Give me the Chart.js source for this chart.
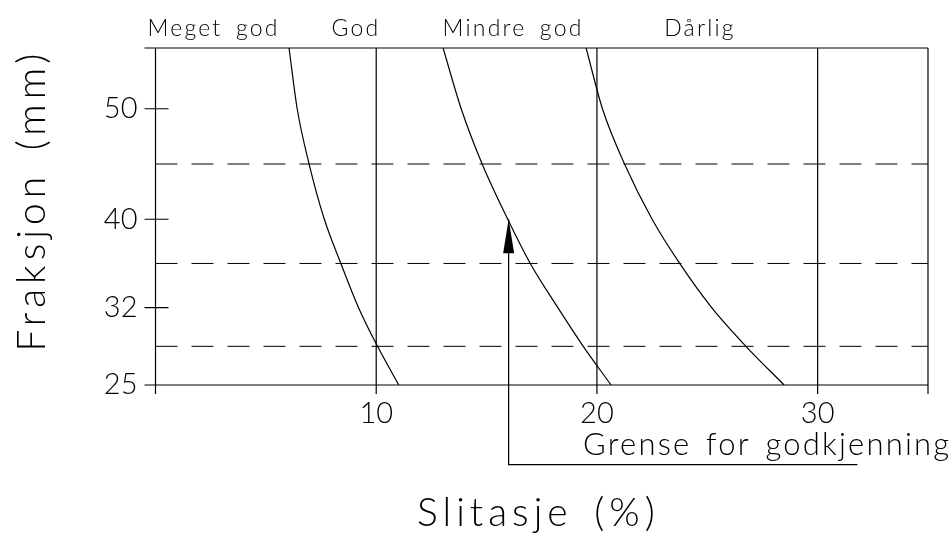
<!DOCTYPE html>
<html>
<head>
<meta charset="utf-8">
<script src="https://cdn.jsdelivr.net/npm/chart.js@4.4.1/dist/chart.umd.min.js"></script>
<style>
  html, body { margin: 0; padding: 0; background: #fff; }
  #wrap { width: 952px; height: 536px; }
</style>
</head>
<body>
<div id="wrap"><canvas id="myChart" width="952" height="536"></canvas></div>
<script>
// values
const xTicks = [10, 20, 30];
const yTicks = [25, 32, 40, 50];
const classLimits = [45, 36, 28.5];
const zoneNames = ['Meget god', 'God', 'Mindre god', 'Dårlig'];

const curveY = [55.5, 50, 45, 40, 36, 32, 28.5, 25];
const curve1X = [6.05, 6.42, 6.96, 7.65, 8.40, 9.20, 10.06, 11.02];
const curve2X = [13.03, 13.85, 14.80, 15.96, 16.98, 18.23, 19.38, 20.64];
const curve3X = [19.51, 20.25, 21.25, 22.50, 23.75, 25.20, 26.75, 28.48];

const limitX = [16, 16, 31.8];
const limitY = [40, 17.8, 17.8];
const limitText = 'Grense for godkjenning';

const xTitle = 'Slitasje (%)';
const yTitle = 'Fraksjon (mm)';

const FONT = "Lato, 'DejaVu Sans', sans-serif";
const WEIGHT = 300;

function pts(xs, ys) {
    return xs.map(function (x, i) { return { x: x, y: ys[i] }; });
}

const datasets = [];
[curve1X, curve2X, curve3X].forEach(function (cx) {
    datasets.push({
        data: pts(cx, curveY),
        borderColor: '#000',
        borderWidth: 1.2,
        pointRadius: 0,
        cubicInterpolationMode: 'monotone',
        fill: false
    });
});
classLimits.forEach(function (v) {
    datasets.push({
        data: [{ x: 0, y: v }, { x: 35, y: v }],
        borderColor: '#000',
        borderWidth: 1,
        borderDash: [22, 14],
        pointRadius: 0,
        tension: 0
    });
});
datasets.push({
    data: pts(limitX, limitY),
    borderColor: '#000',
    borderWidth: 1.2,
    pointRadius: 0,
    tension: 0,
    clip: false
});

// CAD style frame, tick crosses, arrowhead and free texts
const drawingPlugin = {
    id: 'drawing',
    beforeDatasetsDraw: function (chart) {
        const ctx = chart.ctx;
        const xs = chart.scales.x;
        const ys = chart.scales.y;
        const top = chart.chartArea.top;
        const bottom = chart.chartArea.bottom;
        ctx.save();
        ctx.strokeStyle = '#000';
        ctx.lineWidth = 1.2;
        ctx.beginPath();
        // verticals (axis, grid, right border) with tick stubs below
        [0].concat(xTicks, [35]).forEach(function (v) {
            const px = xs.getPixelForValue(v);
            ctx.moveTo(px, top);
            ctx.lineTo(px, bottom + 9);
        });
        // top and bottom lines
        const x0 = xs.getPixelForValue(0);
        const x1 = xs.getPixelForValue(35);
        ctx.moveTo(x0 - 11, top);
        ctx.lineTo(x1, top);
        ctx.moveTo(x0 - 11, bottom);
        ctx.lineTo(x1, bottom);
        // y tick crosses
        yTicks.forEach(function (v) {
            const py = ys.getPixelForValue(v);
            ctx.moveTo(x0 - 11, py);
            ctx.lineTo(x0 + 13, py);
        });
        ctx.stroke();
        ctx.restore();
    },
    afterDatasetsDraw: function (chart) {
        const ctx = chart.ctx;
        const xs = chart.scales.x;
        const ys = chart.scales.y;
        const top = chart.chartArea.top;
        ctx.save();
        // arrowhead
        const ax = xs.getPixelForValue(limitX[0]);
        const ay = ys.getPixelForValue(limitY[0]);
        ctx.fillStyle = '#000';
        ctx.beginPath();
        ctx.moveTo(ax, ay);
        ctx.lineTo(ax - 5.5, ay + 34);
        ctx.lineTo(ax + 5.5, ay + 34);
        ctx.closePath();
        ctx.fill();

        ctx.fillStyle = '#000';
        ctx.textBaseline = 'alphabetic';
        // zone names above the frame
        ctx.font = WEIGHT + ' 23px ' + FONT;
        ctx.letterSpacing = '2.2px';
        ctx.wordSpacing = '5px';
        ctx.textAlign = 'center';
        const zoneX = [2.63, 9.08, 16.2, 24.67];
        zoneNames.forEach(function (n, i) {
            ctx.fillText(n, xs.getPixelForValue(zoneX[i]), top - 12);
        });
        // limit text
        ctx.font = WEIGHT + ' 31px ' + FONT;
        ctx.letterSpacing = '2.2px';
        ctx.wordSpacing = '4px';
        ctx.textAlign = 'left';
        ctx.fillText(limitText, xs.getPixelForValue(19.37), ys.getPixelForValue(limitY[1]) - 10);
        // axis titles
        ctx.font = WEIGHT + ' 39px ' + FONT;
        ctx.letterSpacing = '5px';
        ctx.wordSpacing = '6px';
        ctx.textAlign = 'center';
        ctx.fillText(xTitle, xs.getPixelForValue(17.35), 526);
        ctx.translate(45, 200);
        ctx.rotate(-Math.PI / 2);
        ctx.fillText(yTitle, 0, 0);
        ctx.restore();
    }
};

const config = {
    type: 'line',
    data: { datasets: datasets },
    options: {
        responsive: false,
        animation: false,
        devicePixelRatio: 1,
        layout: { padding: { top: 48, right: 24, left: 0, bottom: 0 } },
        plugins: {
            legend: { display: false },
            tooltip: { enabled: false }
        },
        scales: {
            x: {
                type: 'linear',
                min: 0,
                max: 35,
                grid: { display: false, drawTicks: false },
                border: { display: false },
                afterBuildTicks: function (scale) {
                    scale.ticks = xTicks.map(function (v) { return { value: v }; });
                },
                afterFit: function (scale) { scale.height = 151; },
                ticks: {
                    color: '#000',
                    padding: 11,
                    maxRotation: 0,
                    font: { family: FONT, size: 29, weight: WEIGHT }
                }
            },
            y: {
                type: 'linear',
                min: 25,
                max: 55.5,
                grid: { display: false, drawTicks: false },
                border: { display: false },
                afterBuildTicks: function (scale) {
                    scale.ticks = yTicks.map(function (v) { return { value: v }; });
                },
                afterFit: function (scale) { scale.width = 155.5; },
                ticks: {
                    color: '#000',
                    padding: 18,
                    font: { family: FONT, size: 29, weight: WEIGHT }
                }
            }
        }
    },
    plugins: [drawingPlugin]
};

const myChart = new Chart(
    document.getElementById('myChart'),
    config
);
</script>
</body>
</html>
